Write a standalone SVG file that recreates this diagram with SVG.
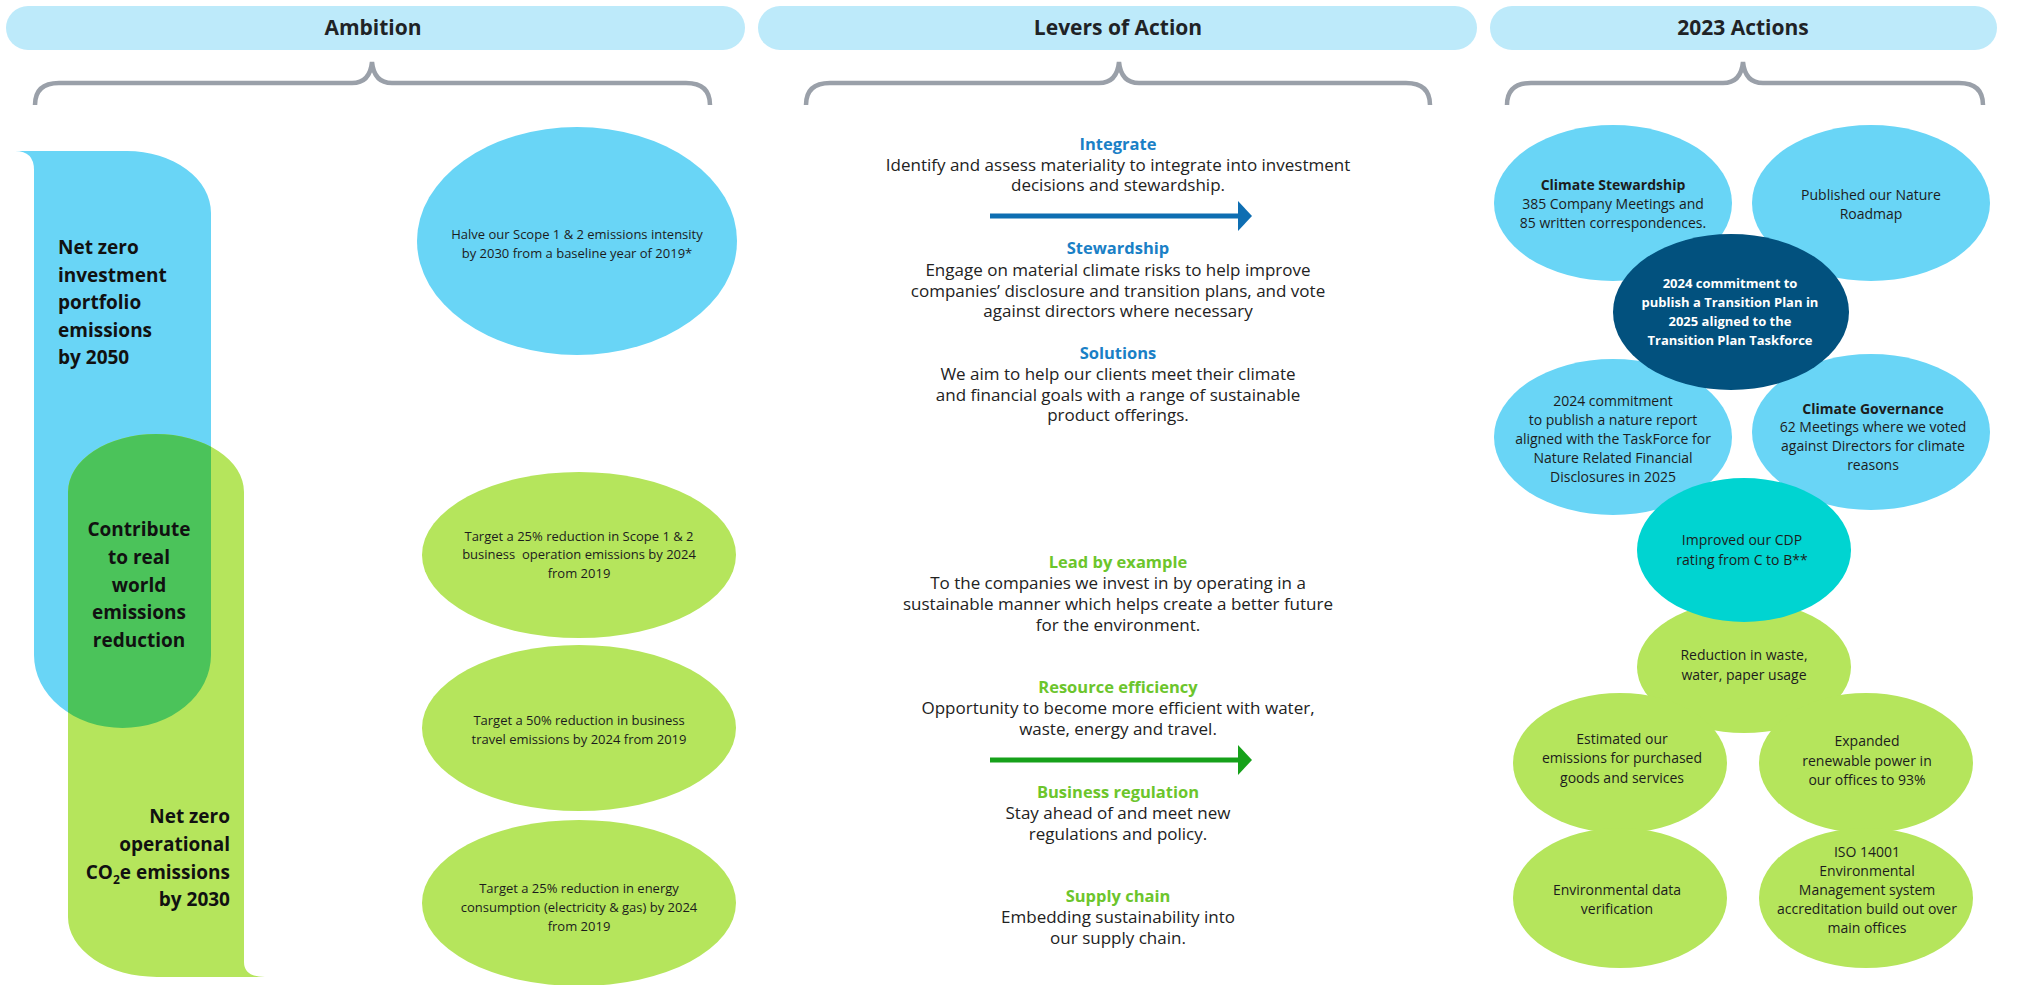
<svg xmlns="http://www.w3.org/2000/svg" width="2031" height="985" viewBox="0 0 2031 985">
<defs>
<style>
text{font-family:'Open Sans','Liberation Sans',Arial,sans-serif;fill:#1c1c1c}
.hdr{fill:#bdeafa}
.ht{font-size:21px;font-weight:700;text-anchor:middle;fill:#1f2326}
.brace{fill:none;stroke:#9aa0a9;stroke-width:4.5}
.lb{fill:#69d5f6}.lg{fill:#b5e55c}.dg{fill:#4bc35a}.navy{fill:#02517e}.teal{fill:#00d4d1}
.big{font-size:19px;font-weight:700;fill:#111}
.c{text-anchor:middle}
.e13{font-size:13px;text-anchor:middle}
.r14{font-size:14px;text-anchor:middle}
.b{font-weight:700}
.w{fill:#ffffff;font-size:13px}
.mh{font-size:16.5px;font-weight:700;text-anchor:middle}
.bh{fill:#1a80c6}.gh{fill:#6cc52c}
.mb{font-size:17px;text-anchor:middle;fill:#222}
.arr{stroke-width:5;fill:none}
</style>
<marker id="headBlue" markerUnits="userSpaceOnUse" markerWidth="14" markerHeight="30" viewBox="0 0 14 30" refX="2" refY="15" orient="auto"><path d="M0,0 L14,15 L0,30 Z" fill="#0e6eb2"/></marker>
<marker id="headGreen" markerUnits="userSpaceOnUse" markerWidth="14" markerHeight="30" viewBox="0 0 14 30" refX="2" refY="15" orient="auto"><path d="M0,0 L14,15 L0,30 Z" fill="#16a11a"/></marker>
<clipPath id="blueClip"><path d="M15,151 L127,151 A84 62 0 0 1 211,213 L211,655 A88.5 73 0 0 1 34,655 L34,170 Q34,151 15,151 Z"/></clipPath>
</defs>

<!-- Column headers -->
<g id="hdr-ambition"><rect class="hdr" x="6" y="6" width="739" height="44" rx="22"/><text class="ht" x="373" y="35">Ambition</text></g>
<g id="hdr-levers"><rect class="hdr" x="758" y="6" width="719" height="44" rx="22"/><text class="ht" x="1118" y="35">Levers of Action</text></g>
<g id="hdr-actions"><rect class="hdr" x="1490" y="6" width="507" height="44" rx="22"/><text class="ht" x="1743" y="35">2023 Actions</text></g>

<!-- Braces -->
<g id="braces">
<path class="brace" d="M35,105 Q35,83 59,83 L352,83 Q370,83 372,62 Q374,83 392,83 L686,83 Q710,83 710,105"/>
<path class="brace" d="M806,105 Q806,83 830,83 L1099,83 Q1117,83 1119,62 Q1121,83 1139,83 L1406,83 Q1430,83 1430,105"/>
<path class="brace" d="M1507,105 Q1507,83 1531,83 L1723,83 Q1741,83 1743,62 Q1745,83 1763,83 L1959,83 Q1983,83 1983,105"/>
</g>

<!-- Left ambition shapes -->
<g id="ambition-investment">
<path class="lb" d="M15,151 L127,151 A84 62 0 0 1 211,213 L211,655 A88.5 73 0 0 1 34,655 L34,170 Q34,151 15,151 Z"/>
</g>
<g id="ambition-operational">
<path class="lg" d="M68,492 A88 58 0 0 1 244,492 L244,962 Q244,977 265,977 L157,977 A89 60 0 0 1 68,917 Z"/>
</g>
<g id="ambition-overlap">
<path class="dg" clip-path="url(#blueClip)" d="M68,492 A88 58 0 0 1 244,492 L244,962 Q244,977 265,977 L157,977 A89 60 0 0 1 68,917 Z"/>
</g>
<g id="ambition-texts">
<text class="big" x="58" y="254">Net zero</text>
<text class="big" x="58" y="282">investment</text>
<text class="big" x="58" y="309">portfolio</text>
<text class="big" x="58" y="337">emissions</text>
<text class="big" x="58" y="364">by 2050</text>
<text class="big c" x="139" y="536">Contribute</text>
<text class="big c" x="139" y="564">to real</text>
<text class="big c" x="139" y="592">world</text>
<text class="big c" x="139" y="619">emissions</text>
<text class="big c" x="139" y="647">reduction</text>
<text class="big" x="230" y="823" text-anchor="end">Net zero</text>
<text class="big" x="230" y="851" text-anchor="end">operational</text>
<text class="big" x="230" y="879" text-anchor="end">CO<tspan font-size="12" dy="5">2</tspan><tspan dy="-5">e emissions</tspan></text>
<text class="big" x="230" y="906" text-anchor="end">by 2030</text>
</g>

<!-- Ambition targets -->
<g id="target-halve">
<ellipse class="lb" cx="577" cy="241" rx="160" ry="114"/>
<text class="e13" x="577" y="239">Halve our Scope 1 &amp; 2 emissions intensity</text>
<text class="e13" x="577" y="258">by 2030 from a baseline year of 2019*</text>
</g>
<g id="target-operations">
<ellipse class="lg" cx="579" cy="555" rx="157" ry="83"/>
<text class="e13" x="579" y="541">Target a 25% reduction in Scope 1 &amp; 2</text>
<text class="e13" x="579" y="559" xml:space="preserve">business  operation emissions by 2024</text>
<text class="e13" x="579" y="578">from 2019</text>
</g>
<g id="target-travel">
<ellipse class="lg" cx="579" cy="728" rx="157" ry="83"/>
<text class="e13" x="579" y="725">Target a 50% reduction in business</text>
<text class="e13" x="579" y="744">travel emissions by 2024 from 2019</text>
</g>
<g id="target-energy">
<ellipse class="lg" cx="579" cy="903" rx="157" ry="83"/>
<text class="e13" x="579" y="893">Target a 25% reduction in energy</text>
<text class="e13" x="579" y="912">consumption (electricity &amp; gas) by 2024</text>
<text class="e13" x="579" y="931">from 2019</text>
</g>

<!-- Levers of action -->
<g id="lever-integrate">
<text class="mh bh" x="1118" y="150">Integrate</text>
<text class="mb" x="1118" y="171">Identify and assess materiality to integrate into investment</text>
<text class="mb" x="1118" y="191">decisions and stewardship.</text>
</g>
<g id="lever-stewardship">
<text class="mh bh" x="1118" y="254">Stewardship</text>
<text class="mb" x="1118" y="276">Engage on material climate risks to help improve</text>
<text class="mb" x="1118" y="297">companies’ disclosure and transition plans, and vote</text>
<text class="mb" x="1118" y="317">against directors where necessary</text>
</g>
<g id="lever-solutions">
<text class="mh bh" x="1118" y="359">Solutions</text>
<text class="mb" x="1118" y="380">We aim to help our clients meet their climate</text>
<text class="mb" x="1118" y="401">and financial goals with a range of sustainable</text>
<text class="mb" x="1118" y="421">product offerings.</text>
</g>
<g id="lever-lead">
<text class="mh gh" x="1118" y="568">Lead by example</text>
<text class="mb" x="1118" y="589">To the companies we invest in by operating in a</text>
<text class="mb" x="1118" y="610">sustainable manner which helps create a better future</text>
<text class="mb" x="1118" y="631">for the environment.</text>
</g>
<g id="lever-resource">
<text class="mh gh" x="1118" y="693">Resource efficiency</text>
<text class="mb" x="1118" y="714">Opportunity to become more efficient with water,</text>
<text class="mb" x="1118" y="735">waste, energy and travel.</text>
</g>
<g id="lever-regulation">
<text class="mh gh" x="1118" y="798">Business regulation</text>
<text class="mb" x="1118" y="819">Stay ahead of and meet new</text>
<text class="mb" x="1118" y="840">regulations and policy.</text>
</g>
<g id="lever-supply">
<text class="mh gh" x="1118" y="902">Supply chain</text>
<text class="mb" x="1118" y="923">Embedding sustainability into</text>
<text class="mb" x="1118" y="944">our supply chain.</text>
</g>

<!-- Connectors -->
<g id="connectors">
<line class="arr" x1="990" y1="216" x2="1240" y2="216" stroke="#0e6eb2" marker-end="url(#headBlue)"/>
<line class="arr" x1="990" y1="760" x2="1240" y2="760" stroke="#16a11a" marker-end="url(#headGreen)"/>
</g>

<!-- 2023 Actions -->
<g id="act-stewardship">
<ellipse class="lb" cx="1613" cy="203" rx="119" ry="78"/>
<text class="r14 b" x="1613" y="190">Climate Stewardship</text>
<text class="r14" x="1613" y="209">385 Company Meetings and</text>
<text class="r14" x="1613" y="228">85 written correspondences.</text>
</g>
<g id="act-roadmap">
<ellipse class="lb" cx="1871" cy="203" rx="119" ry="78"/>
<text class="r14" x="1871" y="200">Published our Nature</text>
<text class="r14" x="1871" y="219">Roadmap</text>
</g>
<g id="act-nature-report">
<ellipse class="lb" cx="1613" cy="437" rx="119" ry="78"/>
<text class="r14" x="1613" y="406">2024 commitment</text>
<text class="r14" x="1613" y="425">to publish a nature report</text>
<text class="r14" x="1613" y="444">aligned with the TaskForce for</text>
<text class="r14" x="1613" y="463">Nature Related Financial</text>
<text class="r14" x="1613" y="482">Disclosures in 2025</text>
</g>
<g id="act-governance">
<ellipse class="lb" cx="1871" cy="432" rx="119" ry="78"/>
<text class="r14 b" x="1873" y="414">Climate Governance</text>
<text class="r14" x="1873" y="432">62 Meetings where we voted</text>
<text class="r14" x="1873" y="451">against Directors for climate</text>
<text class="r14" x="1873" y="470">reasons</text>
</g>
<g id="act-transition-plan">
<ellipse class="navy" cx="1731" cy="312" rx="118" ry="78"/>
<text class="r14 b w" x="1730" y="288">2024 commitment to</text>
<text class="r14 b w" x="1730" y="307">publish a Transition Plan in</text>
<text class="r14 b w" x="1730" y="326">2025 aligned to the</text>
<text class="r14 b w" x="1730" y="345">Transition Plan Taskforce</text>
</g>
<g id="act-waste">
<ellipse class="lg" cx="1744" cy="667" rx="107" ry="66"/>
<text class="r14" x="1744" y="660">Reduction in waste,</text>
<text class="r14" x="1744" y="680">water, paper usage</text>
</g>
<g id="act-cdp">
<ellipse class="teal" cx="1744" cy="550" rx="107" ry="72"/>
<text class="r14" x="1742" y="545">Improved our CDP</text>
<text class="r14" x="1742" y="565">rating from C to B**</text>
</g>
<g id="act-estimated">
<ellipse class="lg" cx="1620" cy="763" rx="107" ry="70"/>
<text class="r14" x="1622" y="744">Estimated our</text>
<text class="r14" x="1622" y="763">emissions for purchased</text>
<text class="r14" x="1622" y="783">goods and services</text>
</g>
<g id="act-renewable">
<ellipse class="lg" cx="1866" cy="763" rx="107" ry="70"/>
<text class="r14" x="1867" y="746">Expanded</text>
<text class="r14" x="1867" y="766">renewable power in</text>
<text class="r14" x="1867" y="785">our offices to 93%</text>
</g>
<g id="act-data">
<ellipse class="lg" cx="1620" cy="898" rx="107" ry="70"/>
<text class="r14" x="1617" y="895">Environmental data</text>
<text class="r14" x="1617" y="914">verification</text>
</g>
<g id="act-iso">
<ellipse class="lg" cx="1866" cy="898" rx="107" ry="70"/>
<text class="r14" x="1867" y="857">ISO 14001</text>
<text class="r14" x="1867" y="876">Environmental</text>
<text class="r14" x="1867" y="895">Management system</text>
<text class="r14" x="1867" y="914">accreditation build out over</text>
<text class="r14" x="1867" y="933">main offices</text>
</g>
</svg>
